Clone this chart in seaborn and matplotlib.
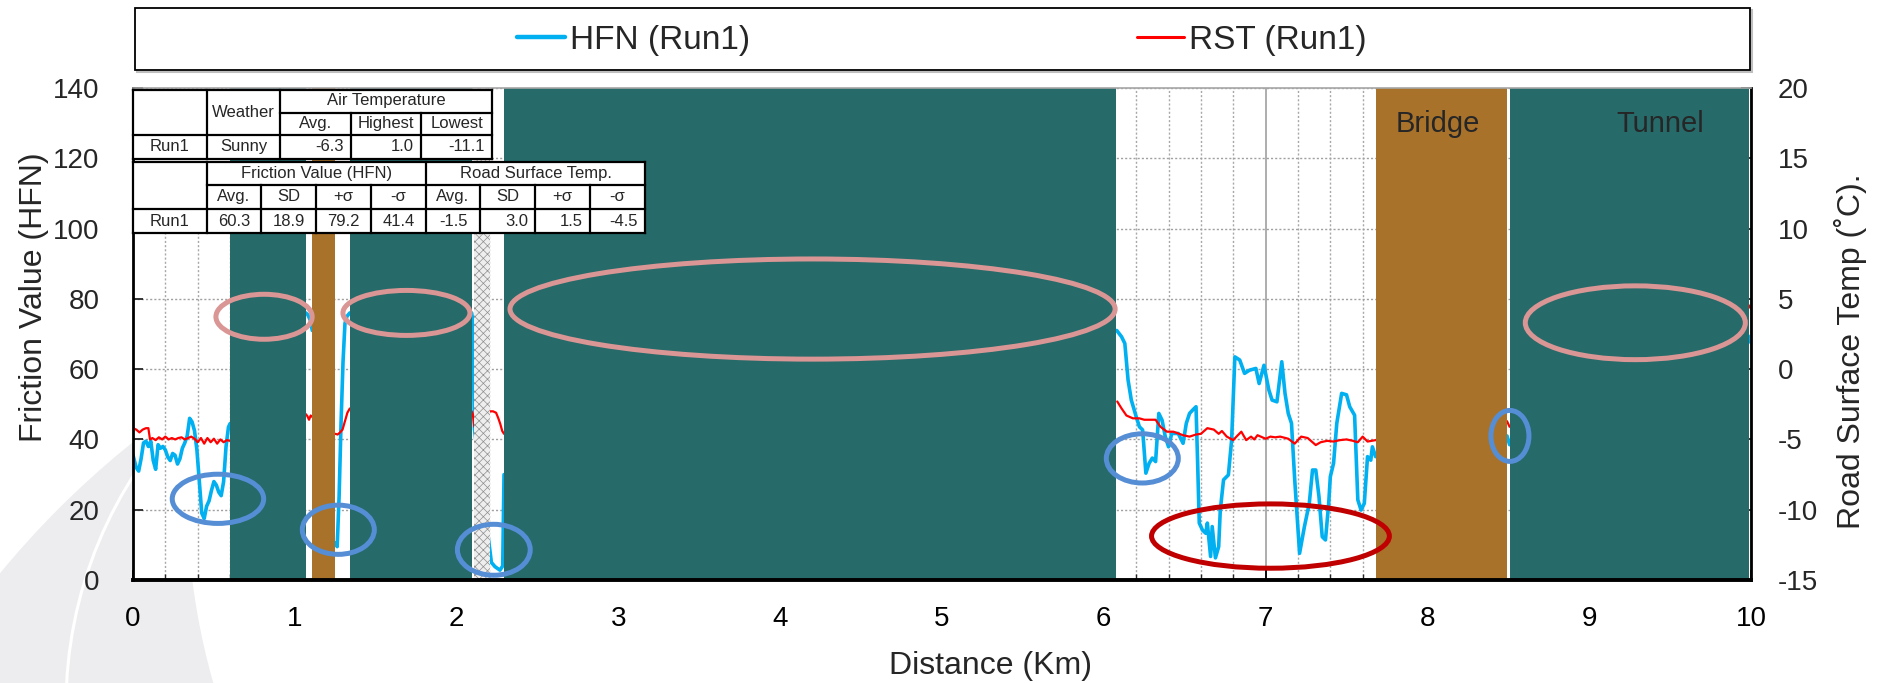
import numpy as np
import pandas as pd
import matplotlib
matplotlib.use("Agg")
import matplotlib.pyplot as plt
import seaborn as sns
from matplotlib.patches import Rectangle, Ellipse, Circle
from matplotlib.lines import Line2D
from matplotlib.ticker import MultipleLocator

# ---------------- data ----------------
# HFN friction readings (Run1) on the open stretches of the route
hfn_km_a = [0.000, 0.020, 0.035, 0.050, 0.065, 0.080, 0.095, 0.110, 0.125, 0.140,
            0.155, 0.170, 0.185, 0.200, 0.215, 0.230, 0.245, 0.260, 0.275, 0.290,
            0.305, 0.320, 0.335, 0.350, 0.365, 0.380, 0.395, 0.410, 0.425, 0.440,
            0.455, 0.470, 0.485, 0.500, 0.515, 0.530, 0.545, 0.560, 0.575, 0.590, 0.600]
hfn_val_a = [35.5, 32.0, 31.0, 34.5, 39.0, 39.5, 38.0, 39.5, 34.0, 31.5,
             38.5, 37.5, 38.0, 37.0, 35.0, 34.0, 36.0, 35.5, 33.0, 34.5,
             37.5, 39.0, 41.0, 46.0, 45.0, 42.5, 37.0, 28.0, 19.0, 17.5,
             21.0, 22.5, 25.5, 28.0, 27.0, 25.0, 24.0, 28.0, 38.0, 43.5, 44.5]
hfn_km_b = [1.068, 1.080, 1.095, 1.108]
hfn_val_b = [76.0, 75.5, 74.0, 71.0]
hfn_km_c = [1.250, 1.262, 1.274, 1.286, 1.298, 1.310, 1.322, 1.340]
hfn_val_c = [10.5, 9.5, 24.0, 45.0, 62.0, 73.0, 75.0, 76.0]
hfn_km_d = [2.093, 2.100, 2.110, 2.160, 2.207, 2.215, 2.237, 2.268, 2.285, 2.293]
hfn_val_d = [76.0, 74.0, 43.0, 25.0, 8.0, 5.0, 3.8, 2.8, 4.0, 30.0]
hfn_km_e = [6.080, 6.110, 6.130, 6.150, 6.170, 6.200, 6.220, 6.240, 6.260, 6.280,
            6.300, 6.320, 6.340, 6.360, 6.380, 6.400, 6.420, 6.460, 6.490, 6.510,
            6.530, 6.550, 6.570, 6.580, 6.590, 6.610, 6.630, 6.640, 6.660, 6.670,
            6.690, 6.710, 6.720, 6.740, 6.770, 6.790, 6.810, 6.840, 6.870, 6.900,
            6.940, 6.960, 6.990, 7.020, 7.040, 7.070, 7.100, 7.120, 7.140, 7.160,
            7.180, 7.210, 7.240, 7.270, 7.290, 7.310, 7.330, 7.350, 7.370, 7.390,
            7.400, 7.420, 7.440, 7.470, 7.500, 7.520, 7.550, 7.570, 7.590, 7.610,
            7.630, 7.650, 7.660, 7.680]
hfn_val_e = [71.0, 69.2, 67.3, 56.9, 51.2, 46.5, 43.6, 42.7, 30.4, 33.2,
             34.7, 33.7, 47.4, 45.5, 40.8, 37.9, 41.7, 41.7, 38.9, 44.6,
             47.4, 48.4, 49.3, 33.2, 16.2, 14.2, 13.3, 16.2, 6.7, 15.2,
             6.3, 9.5, 19.9, 28.5, 29.9, 39.8, 63.5, 62.6, 58.8, 59.7,
             60.2, 55.9, 61.1, 54.1, 51.2, 50.7, 62.1, 53.1, 47.4, 44.6,
             28.5, 7.6, 15.2, 21.8, 31.3, 31.3, 23.7, 12.3, 11.4, 21.8,
             29.4, 33.2, 44.6, 53.1, 52.7, 49.3, 46.9, 22.8, 19.9, 21.8,
             35.1, 34.1, 37.9, 35.1]
hfn_km_f = [8.492, 8.508]
hfn_val_f = [41.0, 38.5]
hfn_km_g = [9.982, 10.000]
hfn_val_g = [69.5, 67.5]

# Road surface temperature (Run1), degrees C
rst_km_a = [0.00, 0.02, 0.04, 0.06, 0.08, 0.095, 0.105, 0.12, 0.14, 0.16,
            0.18, 0.20, 0.22, 0.24, 0.26, 0.28, 0.30, 0.32, 0.34, 0.36,
            0.38, 0.40, 0.42, 0.44, 0.46, 0.48, 0.50, 0.52, 0.54, 0.56, 0.58, 0.60]
rst_val_a = [-4.2, -4.3, -4.5, -4.3, -4.2, -4.2, -5.0, -4.9, -5.05, -4.85,
             -5.0, -4.8, -5.0, -4.9, -5.0, -4.9, -4.85, -5.0, -4.9, -4.8,
             -4.95, -5.2, -4.9, -5.3, -4.9, -5.2, -4.95, -5.3, -5.0, -5.2, -5.05, -5.1]
rst_km_b = [1.068, 1.078, 1.088, 1.098, 1.108]
rst_val_b = [-3.2, -3.35, -3.6, -3.3, -3.4]
rst_km_c = [1.250, 1.265, 1.280, 1.295, 1.310, 1.325, 1.340]
rst_val_c = [-4.6, -4.65, -4.5, -4.3, -3.7, -3.1, -2.8]
rst_km_d = [2.093, 2.100, 2.110, 2.160, 2.207, 2.225, 2.244, 2.258, 2.270, 2.282, 2.293]
rst_val_d = [-3.0, -3.2, -4.1, -3.5, -3.0, -3.0, -3.1, -3.5, -3.9, -4.4, -4.6]
rst_km_e = [6.083, 6.110, 6.140, 6.180, 6.220, 6.250, 6.290, 6.320, 6.350, 6.390,
            6.430, 6.490, 6.530, 6.570, 6.600, 6.640, 6.680, 6.710, 6.730, 6.760,
            6.800, 6.820, 6.850, 6.880, 6.910, 6.930, 6.950, 7.000, 7.030, 7.060,
            7.090, 7.140, 7.180, 7.220, 7.260, 7.310, 7.340, 7.380, 7.420, 7.460,
            7.500, 7.540, 7.570, 7.600, 7.630, 7.680]
rst_val_e = [-2.3, -2.8, -3.3, -3.5, -3.5, -3.6, -3.6, -3.6, -4.1, -4.45,
             -4.45, -4.7, -4.8, -4.65, -4.6, -4.2, -4.3, -4.6, -4.4, -4.8,
             -5.05, -4.8, -4.45, -5.05, -4.8, -5.0, -4.7, -4.95, -4.8, -4.85,
             -4.8, -4.95, -5.3, -4.8, -4.9, -5.4, -5.2, -5.1, -5.15, -5.05,
             -5.0, -5.1, -5.2, -4.8, -5.15, -5.05]
rst_km_f = [8.492, 8.508]
rst_val_f = [-3.7, -4.1]
rst_km_g = [9.982, 10.000]
rst_val_g = [4.6, 4.3]

# Route sections (km)
tunnel_sections = [(0.600, 1.068), (1.340, 2.093), (2.293, 6.075), (8.508, 9.985)]
bridge_sections = [(1.108, 1.250), (7.680, 8.492)]
structure_section = (2.108, 2.207)

# Summary tables
air_header = ["Weather", "Air Temperature"]
air_sub = ["Avg.", "Highest", "Lowest"]
air_row = ["Run1", "Sunny", "-6.3", "1.0", "-11.1"]
stat_groups = ["Friction Value (HFN)", "Road Surface Temp."]
stat_sub = ["Avg.", "SD", "+σ", "-σ", "Avg.", "SD", "+σ", "-σ"]
stat_row = ["Run1", "60.3", "18.9", "79.2", "41.4", "-1.5", "3.0", "1.5", "-4.5"]

legend_labels = ["HFN (Run1)", "RST (Run1)"]

# ---------------- styling ----------------
sns.set_style("white")
plt.rcParams["font.family"] = ["Liberation Sans", "DejaVu Sans"]
plt.rcParams["axes.unicode_minus"] = False
plt.rcParams["hatch.linewidth"] = 0.5

HFN_COLOR = "#00B0F0"
RST_COLOR = "#FF0000"
TEAL = "#266A6A"
BROWN = "#A8722B"
PINK = "#D99694"
BLUE_RING = "#558ED5"
DARK_RED = "#C00000"

W, H = 1889, 683
fig = plt.figure(figsize=(W / 100, H / 100), dpi=100)
fig.patch.set_facecolor("white")
inch = fig.dpi_scale_trans


def px(x, y):
    """pixel position (origin top-left) -> inches for dpi_scale_trans"""
    return (x / 100.0, (H - y) / 100.0)


# soft background swoosh in the lower-left corner
fig.add_artist(Circle(px(700, 1150), 9.07, transform=inch, fc="#EDEDEF", ec="none", zorder=-3))
fig.add_artist(Circle(px(871, 495), 6.84, transform=inch, fc="white", ec="none", zorder=-2))
fig.add_artist(Circle(px(493, 706), 4.27, transform=inch, fill=False, ec="white", lw=2.2, zorder=-1))

ax = fig.add_axes([133 / W, 1 - 580 / H, (1751 - 133) / W, (580 - 88) / H])
ax.set_facecolor("white")
ax2 = ax.twinx()


def segments(pairs, name):
    frames = []
    for i, (k, v) in enumerate(pairs):
        frames.append(pd.DataFrame({"km": k, name: v, "seg": i}))
    return pd.concat(frames, ignore_index=True)


hfn_df = segments([(hfn_km_a, hfn_val_a), (hfn_km_b, hfn_val_b), (hfn_km_c, hfn_val_c),
                   (hfn_km_d, hfn_val_d), (hfn_km_e, hfn_val_e), (hfn_km_f, hfn_val_f),
                   (hfn_km_g, hfn_val_g)], "hfn")
rst_df = segments([(rst_km_a, rst_val_a), (rst_km_b, rst_val_b), (rst_km_c, rst_val_c),
                   (rst_km_d, rst_val_d), (rst_km_e, rst_val_e), (rst_km_f, rst_val_f),
                   (rst_km_g, rst_val_g)], "rst")

sns.lineplot(data=hfn_df, x="km", y="hfn", units="seg", estimator=None, sort=False,
             color=HFN_COLOR, lw=2.6, ax=ax, legend=False, zorder=2)
sns.lineplot(data=rst_df, x="km", y="rst", units="seg", estimator=None, sort=False,
             color=RST_COLOR, lw=1.6, ax=ax2, legend=False, zorder=1.2)

# shaded sections (drawn over the traces)
for a, b in tunnel_sections:
    ax2.axvspan(a, b, ymin=0, ymax=1, color=TEAL, lw=0, zorder=1.8)
for a, b in bridge_sections:
    ax2.axvspan(a, b, ymin=0, ymax=1, color=BROWN, lw=0, zorder=1.8)
ax2.axvspan(*structure_section, ymin=0, ymax=1, facecolor="#EEEEEE", edgecolor="#8E8E8E",
            hatch="xxxx", lw=0, zorder=1.8)

# highlight rings (HFN coordinates)
rings = [
    (0.810, 74.9, 0.595, 12.8, PINK),
    (1.690, 76.0, 0.785, 12.8, PINK),
    (4.200, 77.1, 3.740, 28.5, PINK),
    (9.285, 73.2, 1.360, 21.0, PINK),
    (0.525, 23.1, 0.565, 14.0, BLUE_RING),
    (1.269, 14.3, 0.445, 14.0, BLUE_RING),
    (2.230, 8.6, 0.450, 14.5, BLUE_RING),
    (6.238, 34.6, 0.445, 14.0, BLUE_RING),
    (8.510, 41.0, 0.235, 14.5, BLUE_RING),
    (7.030, 12.5, 1.470, 18.3, DARK_RED),
]
for cx, cy, w, h, col in rings:
    ax2.add_artist(Ellipse((cx, cy), w, h, transform=ax.transData, fill=False,
                           ec=col, lw=3.6, zorder=3))

ax2.text(8.066, 129.8, "Bridge", transform=ax.transData, ha="center", va="center",
         fontsize=21, zorder=4)
ax2.text(9.44, 129.8, "Tunnel", transform=ax.transData, ha="center", va="center",
         fontsize=21, zorder=4)

# axes, ticks, grid
ax.set_xlim(0, 10)
ax.set_ylim(0, 140)
ax2.set_ylim(-15, 20)
ax.set_xticks(range(0, 11))
ax.xaxis.set_minor_locator(MultipleLocator(0.2))
ax.set_yticks(range(0, 141, 20))
ax2.set_yticks(range(-15, 21, 5))

ax.grid(True, which="major", axis="x", color="#A0A0A0", lw=1.2, ls="-")
ax.grid(True, which="minor", axis="x", color="#A8A8A8", lw=1.0, ls=(0, (1.5, 1.5)))
ax.grid(True, which="major", axis="y", color="#A0A0A0", lw=1.0, ls=(0, (1.5, 1.5)))
ax.set_axisbelow(True)

for s in ax.spines.values():
    s.set_visible(False)
for side in ["left", "right", "bottom", "top"]:
    ax2.spines[side].set_visible(True)
ax2.spines["left"].set_color("black")
ax2.spines["left"].set_linewidth(2.0)
ax2.spines["right"].set_color("black")
ax2.spines["right"].set_linewidth(2.0)
ax2.spines["bottom"].set_color("black")
ax2.spines["bottom"].set_linewidth(2.8)
ax2.spines["top"].set_color("#A6A6A6")
ax2.spines["top"].set_linewidth(1.2)

ax.tick_params(axis="x", which="major", direction="in", length=7, width=1.3,
               labelsize=20, pad=19, top=False, bottom=True, colors="black")
ax.tick_params(axis="x", which="minor", direction="in", length=4, width=1.0,
               top=False, bottom=True)
ax.tick_params(axis="y", which="major", direction="in", length=7, width=1.3,
               labelsize=20, pad=24, left=True, right=False)
ax2.tick_params(axis="y", which="major", direction="in", length=7, width=1.3,
                labelsize=20, pad=19, right=True, left=False)

ax.set_xlabel("Distance (Km)", fontsize=23)
ax.xaxis.set_label_coords(0.53, -0.145)
ax.set_ylabel("Friction Value (HFN)", fontsize=23)
ax.yaxis.set_label_coords(-0.052, 0.575)
ax2.set_ylabel("Road Surface Temp (˚C).", fontsize=23)
ax2.yaxis.set_label_coords(1.0513, 0.465)

# summary tables
TABLE_FS = 12


def hline(x0, x1, y, lw=1.6):
    fig.add_artist(Line2D([x0 / 100, x1 / 100], [(H - y) / 100] * 2, transform=inch,
                          color="black", lw=lw, zorder=7, solid_capstyle="projecting"))


def vline(x, y0, y1, lw=1.6):
    fig.add_artist(Line2D([x / 100] * 2, [(H - y0) / 100, (H - y1) / 100], transform=inch,
                          color="black", lw=lw, zorder=7, solid_capstyle="projecting"))


def cell_text(txt, x0, x1, y0, y1, align="center"):
    yc = (y0 + y1) / 2
    if align == "right":
        pos = px(x1 - 7, yc)
    else:
        pos = px((x0 + x1) / 2, yc)
    fig.text(pos[0], pos[1], txt, transform=inch, ha=align, va="center",
             fontsize=TABLE_FS, zorder=8)


def table_box(cols, rows):
    fig.add_artist(Rectangle(px(cols[0], rows[-1]), (cols[-1] - cols[0]) / 100,
                             (rows[-1] - rows[0]) / 100, transform=inch,
                             fc="white", ec="none", zorder=6))
    hline(cols[0], cols[-1], rows[0])
    hline(cols[0], cols[-1], rows[-1])
    vline(cols[0], rows[0], rows[-1])
    vline(cols[-1], rows[0], rows[-1])


c1 = [133, 207, 280, 351, 421, 492]
r1 = [89.5, 112.5, 135, 158.5]
table_box(c1, r1)
vline(c1[1], r1[0], r1[-1])
vline(c1[2], r1[0], r1[-1])
vline(c1[3], r1[1], r1[-1])
vline(c1[4], r1[1], r1[-1])
hline(c1[2], c1[-1], r1[1])
hline(c1[0], c1[-1], r1[2])
cell_text(air_header[0], c1[1], c1[2], r1[0], r1[2])
cell_text(air_header[1], c1[2], c1[5], r1[0], r1[1])
for i, t in enumerate(air_sub):
    cell_text(t, c1[2 + i], c1[3 + i], r1[1], r1[2])
for i, t in enumerate(air_row):
    cell_text(t, c1[i], c1[i + 1], r1[2], r1[3], "right" if i >= 2 else "center")

c2 = [133, 207, 261, 316, 371, 426, 480, 535, 590, 645]
r2 = [161.5, 185, 209, 233]
table_box(c2, r2)
vline(c2[1], r2[0], r2[-1])
vline(c2[5], r2[0], r2[-1])
for k in [2, 3, 4, 6, 7, 8]:
    vline(c2[k], r2[1], r2[-1])
hline(c2[1], c2[-1], r2[1])
hline(c2[0], c2[-1], r2[2])
cell_text(stat_groups[0], c2[1], c2[5], r2[0], r2[1])
cell_text(stat_groups[1], c2[5], c2[9], r2[0], r2[1])
for i, t in enumerate(stat_sub):
    cell_text(t, c2[1 + i], c2[2 + i], r2[1], r2[2])
for i, t in enumerate(stat_row):
    cell_text(t, c2[i], c2[i + 1], r2[2], r2[3], "right" if i >= 6 else "center")

# legend box across the top
fig.add_artist(Rectangle(px(137, 72), (1752 - 137) / 100, 62 / 100, transform=inch,
                         fill=False, ec="#BFBFBF", lw=1.5, zorder=4))
fig.add_artist(Rectangle(px(135, 70), (1750 - 135) / 100, 62 / 100, transform=inch,
                         fc="white", ec="black", lw=1.3, zorder=4.5))
handles = [Line2D([], [], color=HFN_COLOR, lw=3.2), Line2D([], [], color=RST_COLOR, lw=2.2)]
fig.legend(handles, legend_labels, loc="center", bbox_to_anchor=(942 / W, 1 - 40 / H),
           ncol=2, frameon=False, fontsize=24, handlelength=1.42, handletextpad=0.15,
           columnspacing=11.6, borderpad=0, borderaxespad=0)

fig.savefig("out.png", dpi=100)
